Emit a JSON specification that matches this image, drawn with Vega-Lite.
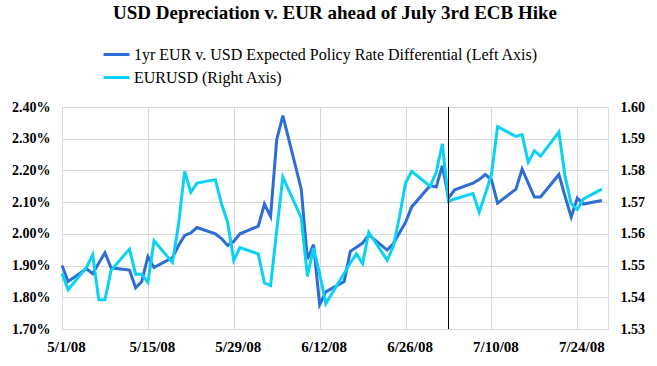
{
  "$schema": "https://vega.github.io/schema/vega-lite/v6.json",
  "width": 546,
  "height": 222,
  "autosize": {"type": "none"},
  "padding": {"left": 62, "top": 107, "right": 49, "bottom": 37},
  "background": "white",
  "title": {"text": "USD Depreciation v. EUR ahead of July 3rd ECB Hike", "font": "Liberation Serif", "fontSize": 19, "fontWeight": "bold", "color": "#000000", "anchor": "middle", "offset": 17},
  "data": {
    "values": [
      {"date": "2008-05-01", "diff": 1.900, "eurusd": 1.5475},
      {"date": "2008-05-02", "diff": 1.850, "eurusd": 1.5424},
      {"date": "2008-05-05", "diff": 1.890, "eurusd": 1.5495},
      {"date": "2008-05-06", "diff": 1.874, "eurusd": 1.5534},
      {"date": "2008-05-07", "diff": 1.908, "eurusd": 1.5392},
      {"date": "2008-05-08", "diff": 1.940, "eurusd": 1.5392},
      {"date": "2008-05-09", "diff": 1.893, "eurusd": 1.5485},
      {"date": "2008-05-12", "diff": 1.886, "eurusd": 1.5552},
      {"date": "2008-05-13", "diff": 1.830, "eurusd": 1.5473},
      {"date": "2008-05-14", "diff": 1.850, "eurusd": 1.5473},
      {"date": "2008-05-15", "diff": 1.928, "eurusd": 1.5447},
      {"date": "2008-05-16", "diff": 1.894, "eurusd": 1.5578},
      {"date": "2008-05-19", "diff": 1.925, "eurusd": 1.5510},
      {"date": "2008-05-20", "diff": 1.963, "eurusd": 1.5630},
      {"date": "2008-05-21", "diff": 1.995, "eurusd": 1.5797},
      {"date": "2008-05-22", "diff": 2.003, "eurusd": 1.5731},
      {"date": "2008-05-23", "diff": 2.020, "eurusd": 1.5760},
      {"date": "2008-05-26", "diff": 2.000, "eurusd": 1.5771},
      {"date": "2008-05-27", "diff": 1.985, "eurusd": 1.5695},
      {"date": "2008-05-28", "diff": 1.963, "eurusd": 1.5636},
      {"date": "2008-05-29", "diff": 1.976, "eurusd": 1.5516},
      {"date": "2008-05-30", "diff": 2.000, "eurusd": 1.5557},
      {"date": "2008-06-02", "diff": 2.024, "eurusd": 1.5537},
      {"date": "2008-06-03", "diff": 2.094, "eurusd": 1.5445},
      {"date": "2008-06-04", "diff": 2.055, "eurusd": 1.5437},
      {"date": "2008-06-05", "diff": 2.297, "eurusd": 1.5610},
      {"date": "2008-06-06", "diff": 2.373, "eurusd": 1.5779},
      {"date": "2008-06-09", "diff": 2.141, "eurusd": 1.5650},
      {"date": "2008-06-10", "diff": 1.920, "eurusd": 1.5466},
      {"date": "2008-06-11", "diff": 1.966, "eurusd": 1.5555},
      {"date": "2008-06-12", "diff": 1.777, "eurusd": 1.5474},
      {"date": "2008-06-13", "diff": 1.817, "eurusd": 1.5380},
      {"date": "2008-06-16", "diff": 1.850, "eurusd": 1.5476},
      {"date": "2008-06-17", "diff": 1.945, "eurusd": 1.5508},
      {"date": "2008-06-18", "diff": 1.958, "eurusd": 1.5537},
      {"date": "2008-06-19", "diff": 1.971, "eurusd": 1.5506},
      {"date": "2008-06-20", "diff": 1.997, "eurusd": 1.5605},
      {"date": "2008-06-23", "diff": 1.949, "eurusd": 1.5517},
      {"date": "2008-06-24", "diff": 1.969, "eurusd": 1.5560},
      {"date": "2008-06-25", "diff": 2.003, "eurusd": 1.5653},
      {"date": "2008-06-26", "diff": 2.036, "eurusd": 1.5760},
      {"date": "2008-06-27", "diff": 2.085, "eurusd": 1.5797},
      {"date": "2008-06-30", "diff": 2.152, "eurusd": 1.5750},
      {"date": "2008-07-01", "diff": 2.148, "eurusd": 1.5794},
      {"date": "2008-07-02", "diff": 2.215, "eurusd": 1.5884},
      {"date": "2008-07-03", "diff": 2.113, "eurusd": 1.5702},
      {"date": "2008-07-04", "diff": 2.139, "eurusd": 1.5710},
      {"date": "2008-07-07", "diff": 2.160, "eurusd": 1.5727},
      {"date": "2008-07-08", "diff": 2.171, "eurusd": 1.5668},
      {"date": "2008-07-09", "diff": 2.187, "eurusd": 1.5726},
      {"date": "2008-07-10", "diff": 2.171, "eurusd": 1.5787},
      {"date": "2008-07-11", "diff": 2.097, "eurusd": 1.5938},
      {"date": "2008-07-14", "diff": 2.141, "eurusd": 1.5907},
      {"date": "2008-07-15", "diff": 2.204, "eurusd": 1.5913},
      {"date": "2008-07-16", "diff": 2.160, "eurusd": 1.5826},
      {"date": "2008-07-17", "diff": 2.116, "eurusd": 1.5862},
      {"date": "2008-07-18", "diff": 2.116, "eurusd": 1.5845},
      {"date": "2008-07-21", "diff": 2.187, "eurusd": 1.5921},
      {"date": "2008-07-22", "diff": 2.118, "eurusd": 1.5781},
      {"date": "2008-07-23", "diff": 2.053, "eurusd": 1.5695},
      {"date": "2008-07-24", "diff": 2.113, "eurusd": 1.5677},
      {"date": "2008-07-25", "diff": 2.094, "eurusd": 1.5710},
      {"date": "2008-07-28", "diff": 2.105, "eurusd": 1.5741}
    ],
    "format": {"parse": {"date": "date:'%Y-%m-%d'"}}
  },
  "encoding": {
    "x": {
      "field": "date",
      "type": "temporal",
      "scale": {"domain": [{"year": 2008, "month": 5, "date": 1}, {"year": 2008, "month": 7, "date": 29}]},
      "axis": {
        "title": null,
        "values": [
          {"year": 2008, "month": 5, "date": 1},
          {"year": 2008, "month": 5, "date": 15},
          {"year": 2008, "month": 5, "date": 29},
          {"year": 2008, "month": 6, "date": 12},
          {"year": 2008, "month": 6, "date": 26},
          {"year": 2008, "month": 7, "date": 10},
          {"year": 2008, "month": 7, "date": 24}
        ],
        "format": "%-m/%-d/%y",
        "labelFont": "Liberation Serif",
        "labelFontSize": 15,
        "labelFontWeight": "bold",
        "labelColor": "#000000",
        "labelPadding": 10,
        "labelOffset": 4,
        "labelFlush": false,
        "labelOverlap": false,
        "ticks": false,
        "domain": false,
        "grid": true,
        "gridColor": "#d9d9d9",
        "gridWidth": 1
      }
    }
  },
  "layer": [
    {
      "mark": {"type": "line", "strokeWidth": 3, "strokeJoin": "miter"},
      "encoding": {
        "y": {
          "field": "diff",
          "type": "quantitative",
          "scale": {"domain": [1.7, 2.4], "nice": false, "zero": false},
          "axis": {
            "title": null,
            "orient": "left",
            "values": [1.7, 1.8, 1.9, 2.0, 2.1, 2.2, 2.3, 2.4],
            "labelExpr": "format(datum.value, '.2f') + '%'",
            "labelFont": "Liberation Serif",
            "labelFontSize": 14,
            "labelFontWeight": "bold",
            "labelColor": "#000000",
            "labelPadding": 12,
            "ticks": false,
            "domain": false,
            "grid": true,
            "gridColor": "#d9d9d9",
            "gridWidth": 1
          }
        },
        "color": {
          "datum": "1yr EUR v. USD Expected Policy Rate Differential (Left Axis)",
          "scale": {
            "domain": ["1yr EUR v. USD Expected Policy Rate Differential (Left Axis)", "EURUSD (Right Axis)"],
            "range": ["#2e6dd6", "#0bd2f5"]
          },
          "legend": {
            "title": null,
            "orient": "none",
            "legendX": 40,
            "legendY": -67,
            "direction": "vertical",
            "symbolType": "stroke",
            "symbolSize": 676,
            "symbolStrokeWidth": 3,
            "labelFont": "Liberation Serif",
            "labelFontSize": 16,
            "labelColor": "#000000",
            "labelLimit": 600,
            "labelOffset": 3,
            "rowPadding": 0
          }
        }
      }
    },
    {
      "mark": {"type": "line", "strokeWidth": 3, "strokeJoin": "miter"},
      "encoding": {
        "y": {
          "field": "eurusd",
          "type": "quantitative",
          "scale": {"domain": [1.53, 1.6], "nice": false, "zero": false},
          "axis": {
            "title": null,
            "orient": "right",
            "values": [1.53, 1.54, 1.55, 1.56, 1.57, 1.58, 1.59, 1.6],
            "format": ".2f",
            "labelFont": "Liberation Serif",
            "labelFontSize": 14,
            "labelFontWeight": "bold",
            "labelColor": "#000000",
            "labelPadding": 12,
            "ticks": false,
            "domain": false,
            "grid": false
          }
        },
        "color": {"datum": "EURUSD (Right Axis)"}
      }
    },
    {
      "data": {"values": [{"date": "2008-07-03"}], "format": {"parse": {"date": "date:'%Y-%m-%d'"}}},
      "mark": {"type": "rule", "color": "#000000", "strokeWidth": 1},
      "encoding": {"x": {"field": "date", "type": "temporal"}}
    }
  ],
  "resolve": {"scale": {"y": "independent"}}
}
